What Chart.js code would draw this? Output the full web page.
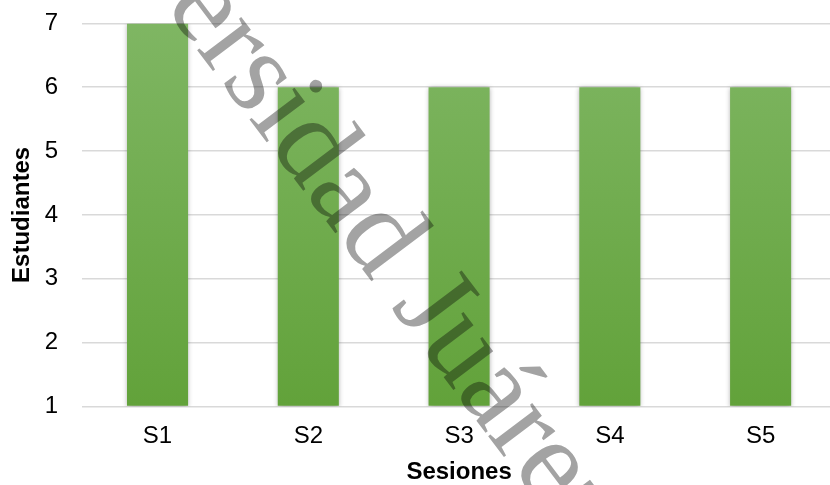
<!DOCTYPE html>
<html>
<head>
<meta charset="utf-8">
<script src="https://cdn.jsdelivr.net/npm/chart.js@4/dist/chart.umd.min.js"></script>
<style>
  html, body { margin: 0; padding: 0; background: #fff; overflow: hidden; }
  /* the original is cropped a little on the right and top, so the chart runs past the window */
  #wrap { width: 840px; height: 500px; margin-top: -15px; }
</style>
</head>
<body>
<div id="wrap"><canvas id="chart"></canvas></div>
<script>
// data
const sessions = ['S1', 'S2', 'S3', 'S4', 'S5'];
const students = [7, 6, 6, 6, 6];
const yTicks = [1, 2, 3, 4, 5, 6, 7];
const watermark = 'Universidad Juárez Autónoma de Tabasco';

const ctx = document.getElementById('chart');
const sans = '"Liberation Sans", Arial, sans-serif';

// soft shadow behind the bars, like the Excel original
const barShadow = {
  id: 'barShadow',
  beforeDatasetsDraw(chart) {
    const c = chart.ctx;
    c.save();
    c.shadowColor = 'rgba(0,0,0,0.35)';
    c.shadowBlur = 5;
    c.shadowOffsetX = 0;
    c.shadowOffsetY = 1;
  },
  afterDatasetsDraw(chart) {
    chart.ctx.restore();
  }
};

// diagonal grey watermark laid over the chart (canvas is shifted up 15px)
const stamp = {
  id: 'stamp',
  afterDraw(chart) {
    const c = chart.ctx;
    c.save();
    c.globalCompositeOperation = 'multiply';
    c.font = '120px "Liberation Serif", "Times New Roman", serif';
    c.fillStyle = '#a3a3a3';
    c.textBaseline = 'middle';
    c.translate(205, 8 + 15);
    c.rotate(53 * Math.PI / 180);
    const lead = c.measureText('Univ').width + c.measureText('e').width / 2;
    c.fillText(watermark, -lead, 0);
    c.restore();
  }
};

new Chart(ctx, {
  type: 'bar',
  data: {
    labels: sessions,
    datasets: [{
      data: students,
      base: 1,
      backgroundColor(context) {
        const area = context.chart.chartArea;
        if (!area) return '#70ad47';
        const g = context.chart.ctx.createLinearGradient(0, area.top, 0, area.bottom);
        g.addColorStop(0, '#7fb663');
        g.addColorStop(1, '#62a23a');
        return g;
      },
      borderWidth: 0,
      barPercentage: 0.405,
      categoryPercentage: 1
    }]
  },
  options: {
    responsive: true,
    maintainAspectRatio: false,
    animation: false,
    layout: { padding: { top: 0, right: 4, left: 8, bottom: -2 } },
    plugins: {
      legend: { display: false },
      tooltip: { enabled: false }
    },
    scales: {
      x: {
        grid: { display: false },
        border: { display: false },
        ticks: {
          color: '#000',
          padding: 8,
          font: { family: sans, size: 24 }
        },
        title: {
          display: true,
          text: 'Sesiones',
          color: '#000',
          padding: { top: -1, bottom: 0 },
          font: { family: sans, size: 24, weight: 'bold' }
        }
      },
      y: {
        min: 1,
        max: 7,
        afterBuildTicks(axis) {
          axis.ticks = yTicks.map(v => ({ value: v }));
        },
        grid: { color: '#d9d9d9', lineWidth: 1.5, drawTicks: false },
        border: { display: false },
        ticks: {
          color: '#000',
          padding: 24,
          font: { family: sans, size: 24 }
        },
        title: {
          display: true,
          text: 'Estudiantes',
          color: '#000',
          padding: { top: 0, bottom: -16 },
          font: { family: sans, size: 24, weight: 'bold' }
        }
      }
    }
  },
  plugins: [barShadow, stamp]
});
</script>
</body>
</html>
